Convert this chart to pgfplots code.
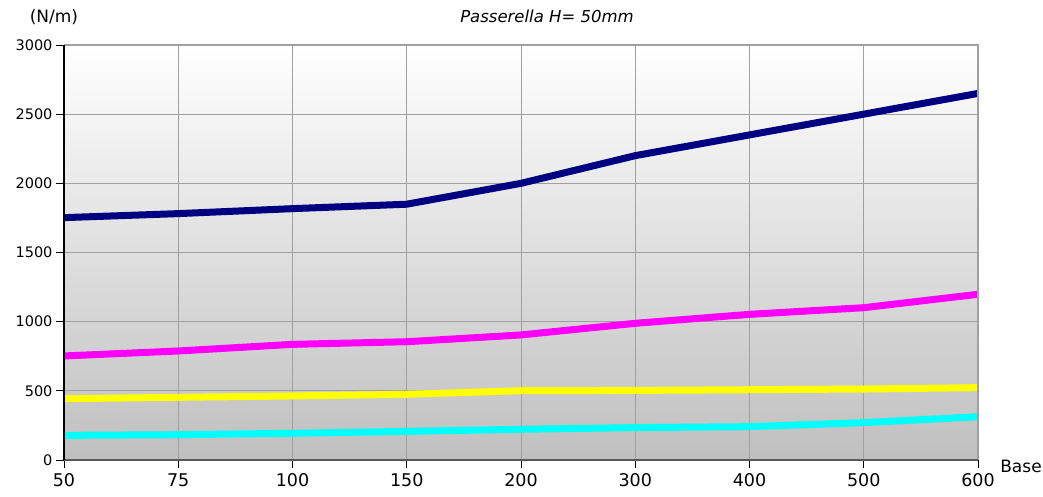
\documentclass[border=0pt]{standalone}
\usepackage{pgfplots}
\pgfplotsset{compat=1.18}
\usepackage{fontspec}
\setmainfont{DejaVu Sans}
\definecolor{navyc}{HTML}{000080}
\definecolor{cyanc}{HTML}{00FFFF}
\definecolor{magc}{HTML}{FF00FF}
\definecolor{yelc}{HTML}{FFFF00}
\definecolor{gridc}{HTML}{A0A0A0}
\begin{document}
\begin{tikzpicture}
\begin{axis}[
  at={(0,0)}, anchor=south west,
  scale only axis, width=914pt, height=415pt,
  xmin=0, xmax=8, ymin=0, ymax=3000,
  xtick={0,1,2,3,4,5,6,7,8},
  xticklabels={50,75,100,150,200,300,400,500,600},
  ytick={0,500,1000,1500,2000,2500,3000},
  /pgf/number format/1000 sep={},
  /pgf/number format/assume math mode=true,
  tick pos=left, tick align=outside,
  major tick length=8pt,
  tick style={black, line width=0.9pt},
  grid=major,
  major grid style={gridc, line width=1pt},
  axis line style={draw=none},
  axis background/.style={shade, top color=white, bottom color=black!25},
  xticklabel style={font=\fontsize{17.5}{20}\selectfont, yshift=-2pt},
  yticklabel style={font=\fontsize{14.5}{17}\selectfont},
  clip=false,
]
\addplot[cyanc, line width=7pt] coordinates {(0,178) (1,183) (2,193) (3,207) (4,222) (5,234) (6,241) (7,270) (8,313)};
\addplot[yelc, line width=7pt] coordinates {(0,443) (1,453) (2,463) (3,475) (4,501) (5,503) (6,508) (7,513) (8,523)};
\addplot[magc, line width=7pt] coordinates {(0,752) (1,788) (2,836) (3,855) (4,904) (5,988) (6,1053) (7,1101) (8,1198)};
\addplot[navyc, line width=7pt] coordinates {(0,1752) (1,1781) (2,1817) (3,1849) (4,2000) (5,2200) (6,2350) (7,2500) (8,2650)};
\draw[gridc, line width=2pt] (rel axis cs:0,1) -- (rel axis cs:1,1) -- (rel axis cs:1,0);
\draw[black!65, line width=2.2pt] (rel axis cs:0,0) -- (rel axis cs:1,0);
\draw[black, line width=1.2pt] (rel axis cs:0,0) -- (rel axis cs:0,1);
\end{axis}
\node[font=\fontsize{17}{20}\selectfont] at (-10pt,443pt) {(N/m)};
\node[font=\fontsize{16.5}{20}\selectfont\itshape] at (483pt,444pt) {Passerella H= 50mm};
\node[font=\fontsize{17}{20}\selectfont] at (957pt,-6pt) {Base};
\pgfresetboundingbox
\useasboundingbox (-64pt,-37pt) rectangle (979pt,460pt);
\end{tikzpicture}
\end{document}
